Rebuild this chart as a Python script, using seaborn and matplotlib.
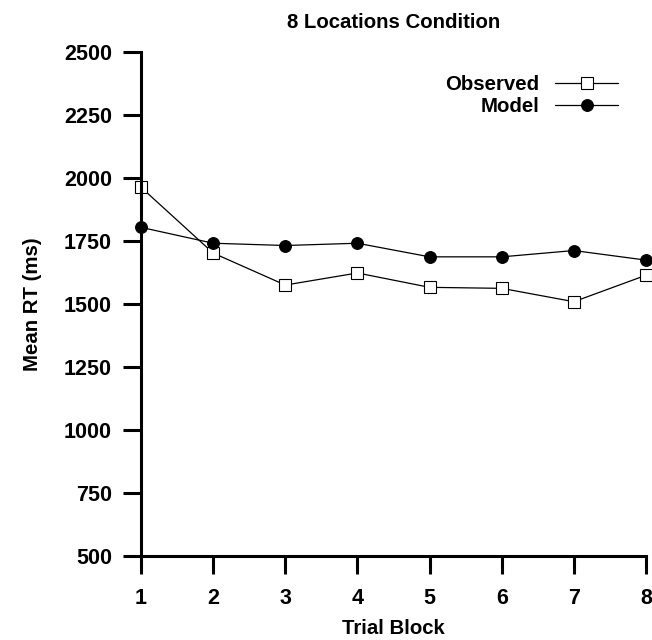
import numpy as np
import pandas as pd
import matplotlib
matplotlib.use("Agg")
import matplotlib.pyplot as plt
import seaborn as sns

# Mean response times per trial block
trial_blocks = [1, 2, 3, 4, 5, 6, 7, 8]
observed_rt = [1963, 1702, 1575, 1623, 1566, 1562, 1509, 1614]
model_rt = [1804, 1741, 1732, 1741, 1687, 1687, 1712, 1674]
y_ticks = [500, 750, 1000, 1250, 1500, 1750, 2000, 2250, 2500]

sns.set_theme(style="ticks")
plt.rcParams["font.family"] = ["Liberation Sans", "DejaVu Sans"]
plt.rcParams["font.weight"] = "bold"
plt.rcParams["text.color"] = "black"
plt.rcParams["axes.labelcolor"] = "black"
plt.rcParams["xtick.color"] = "black"
plt.rcParams["ytick.color"] = "black"

TEXT_SIZE = 14.7
TICK_SIZE = 15.5

fig = plt.figure(figsize=(6.52, 6.40), dpi=100)
ax = fig.add_axes([0.2163, 0.1313, 0.7745, 0.7875])

obs_df = pd.DataFrame({"block": trial_blocks, "rt": observed_rt})
mod_df = pd.DataFrame({"block": trial_blocks, "rt": model_rt})

sns.lineplot(data=obs_df, x="block", y="rt", ax=ax, color="black",
             linewidth=0.9, marker="s", markersize=8,
             markerfacecolor="white", markeredgecolor="black",
             markeredgewidth=0.8, label="Observed", clip_on=False)
sns.lineplot(data=mod_df, x="block", y="rt", ax=ax, color="black",
             linewidth=0.9, marker="o", markersize=8.5,
             markerfacecolor="black", markeredgecolor="black",
             label="Model", clip_on=False)

ax.set_xlim(1, 8)
ax.set_ylim(500, 2500)
ax.set_xticks(trial_blocks)
ax.set_yticks(y_ticks)

for side in ("top", "right"):
    ax.spines[side].set_visible(False)
for side in ("left", "bottom"):
    ax.spines[side].set_linewidth(2.2)
    ax.spines[side].set_color("black")

ax.tick_params(axis="both", direction="out", length=13, width=2.2,
               colors="black", labelcolor="black", labelsize=TICK_SIZE)
ax.tick_params(axis="y", pad=8)
ax.tick_params(axis="x", pad=10)

ax.set_xlabel("Trial Block", fontsize=TEXT_SIZE, fontweight="bold",
              labelpad=7, color="black")
ax.set_ylabel("Mean RT (ms)", fontsize=TEXT_SIZE, fontweight="bold",
              labelpad=16, color="black")
ax.set_title("8 Locations Condition", fontsize=TEXT_SIZE, fontweight="bold",
             pad=17, color="black")

leg = ax.legend(loc="upper right", bbox_to_anchor=(0.945, 0.955),
                frameon=False, markerfirst=False, fontsize=TEXT_SIZE,
                handlelength=3.1, handletextpad=0.75, labelspacing=0.17,
                borderpad=0, borderaxespad=0)
for txt in leg.get_texts():
    txt.set_color("black")

fig.savefig("out.png", dpi=100, facecolor="white")
